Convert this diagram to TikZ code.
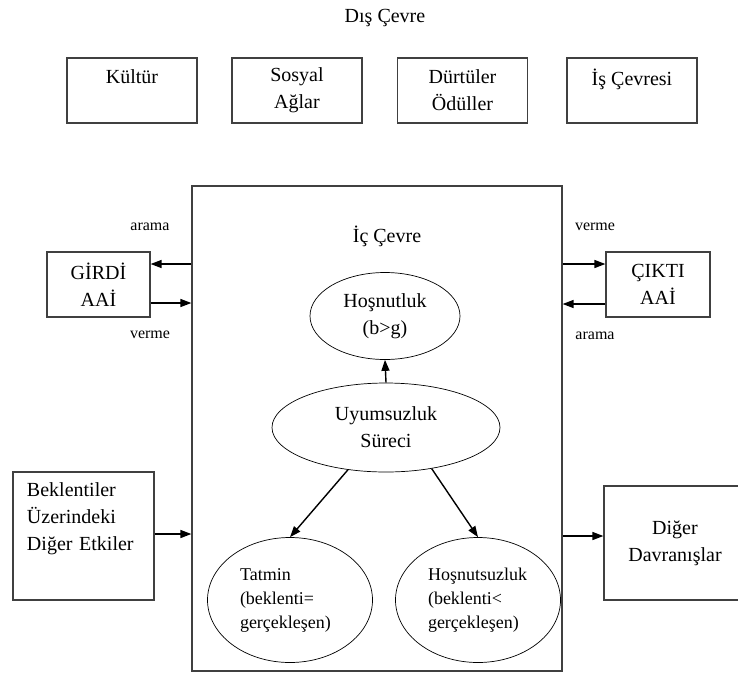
\documentclass[tikz,border=0pt]{standalone}
\usepackage{fontspec}
\setmainfont{Liberation Serif}
\usepackage{xcolor}
\usetikzlibrary{arrows.meta,shapes.geometric}
\definecolor{mygray}{gray}{0.25}

\begin{document}
\begin{tikzpicture}[x=1pt,y=-1pt,
every node/.style={font=\fontsize{20}{27}\selectfont},
kutu/.style={draw=mygray, line width=1.2pt, align=center, inner sep=0pt},
elips/.style={draw, ellipse, line width=0.7pt, inner sep=0pt},
ok/.style={-{Triangle[length=11pt,width=8pt]}, line width=1.4pt},
kucuk/.style={font=\fontsize{16}{19}\selectfont}]
\useasboundingbox (0,0) rectangle (738,673);
\clip (0,0) rectangle (738,673);
\node (dis) at (385,18) {Dış Çevre};
\node[kutu, minimum width=130pt, minimum height=65pt] (kultur) at (132,90.5) {Kültür\\~};
\node[kutu, minimum width=130pt, minimum height=65pt] (sosyal) at (297,90.5) {Sosyal\\Ağlar};
\node[kutu, minimum width=130pt, minimum height=65pt] (durtu) at (462.5,90.5) {Dürtüler\\Ödüller};
\node[kutu, minimum width=130pt, minimum height=65pt] (isc) at (632,90.5) {İş Çevresi\\~};
% ic cevre
\node[kutu, minimum width=370pt, minimum height=485pt] (ic) at (377,428.5) {};
\node (iccevre) at (387,236) {İç Çevre};
\node[kutu, minimum width=103pt, minimum height=65pt] (girdi) at (98.5,284.5) {GİRDİ\\AAİ};
\node[kutu, minimum width=104pt, minimum height=65pt] (cikti) at (658,284.5) {ÇIKTI\\AAİ};
\node[kutu, minimum width=141pt, minimum height=128pt, text width=113pt, align=left] (beklenti) at (83.5,536) {Beklentiler\\Üzerindeki\\Diğer Etkiler\\[12pt]~};
\node[kutu, minimum width=142pt, minimum height=114pt] (diger) at (675,543) {Diğer\\Davranışlar};
\node[kucuk] (arama1) at (150,227) {arama};
\node[kucuk] (verme1) at (150,335) {verme};
\node[kucuk] (verme2) at (595,227) {verme};
\node[kucuk] (arama2) at (595,336) {arama};
% elipsler
\node[elips, minimum width=150pt, minimum height=87pt, align=center] (hosnut) at (385,316) {Hoşnutluk\\(b>g)};
\node[elips, minimum width=228pt, minimum height=89pt, align=center] (uyum) at (386,427.5) {Uyumsuzluk\\Süreci};
\node[elips, minimum width=165pt, minimum height=125pt, text width=100pt, align=left,
  font=\fontsize{18}{24}\selectfont] (tatmin) at (290,600) {Tatmin\\(beklenti=\\gerçekleşen)};
\node[elips, minimum width=165pt, minimum height=125pt, text width=100pt, align=left,
  font=\fontsize{18}{24}\selectfont] (hosnutsuz) at (478,600) {Hoşnutsuzluk\\(beklenti<\\gerçekleşen)};
% oklar
\draw[ok] ([yshift=20.5pt]girdi.east -| ic.west) -- ([yshift=20.5pt]girdi.east);
\draw[ok] ([yshift=-18.5pt]girdi.east) -- ([yshift=-18.5pt]girdi.east -| ic.west);
\draw[ok] ([yshift=20.5pt]cikti.west -| ic.east) -- ([yshift=20.5pt]cikti.west);
\draw[ok] ([yshift=-19.5pt]cikti.west) -- ([yshift=-19.5pt]cikti.west -| ic.east);
\draw[ok] ([yshift=2pt]beklenti.east) -- ([yshift=2pt]beklenti.east -| ic.west);
\draw[ok] ([yshift=7pt]diger.west -| ic.east) -- ([yshift=7pt]diger.west);
\draw[ok] (uyum.north) -- (hosnut.south);
\draw[ok] (uyum.228) -- (tatmin.north);
\draw[ok] (uyum.318) -- (hosnutsuz.north);
\end{tikzpicture}
\end{document}
